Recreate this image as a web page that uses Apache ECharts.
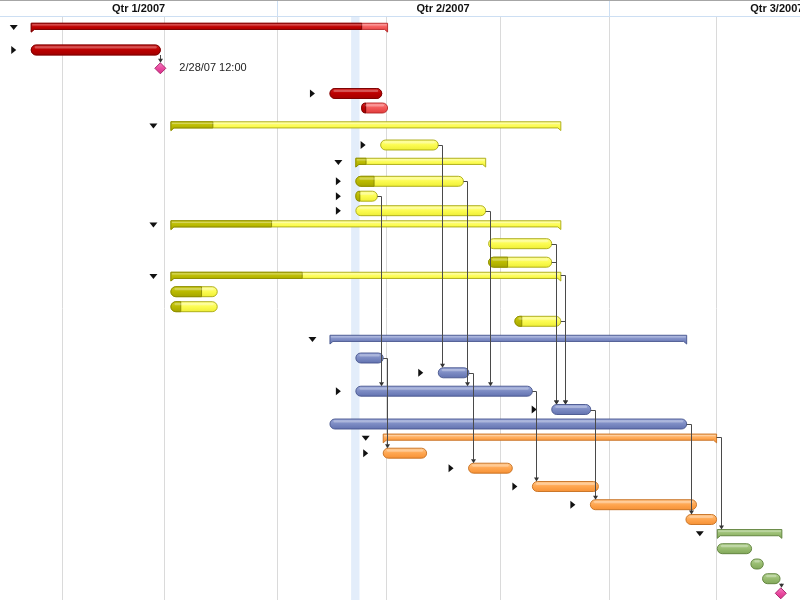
<!DOCTYPE html>
<html>
<head>
<meta charset="utf-8">
<script src="https://cdn.jsdelivr.net/npm/echarts@6/dist/echarts.min.js"></script>
<style>html,body{margin:0;padding:0;background:#fff}#c{width:800px;height:600px}</style>
</head>
<body>
<div id="c"></div>
<script>
// Time is counted in days from 1 Jan 2007 (day 0 = Jan 1, 00:00)
const viewStart = 14.04, viewEnd = 233.37;
const quarterLabels = ['Qtr 1/2007', 'Qtr 2/2007', 'Qtr 3/2007'];
const quarterStart = [0, 90, 181];
const quarterEnd = [90, 181, 273];
const monthLines = [31, 59, 90, 120, 151, 181, 210.3];
const todaySpan = [110.3, 112.6];

// Outline rows (vertical position of each row on the outline axis)
const rowY = [27.5, 50, 68.3, 93.5, 108, 126, 145, 162.5, 181.3, 196.2, 210.7, 225, 243.7, 262.2, 276.5,
  291.7, 306.7, 321.3, 339.5, 358, 372.8, 391.2, 409.5, 424, 438.3, 453.2, 468.2, 486.5, 504.7, 519.5,
  533.8, 548.7, 564, 578.7, 593.3];
const taskKind = ['summary', 'task', 'milestone', 'task', 'task', 'summary', 'task', 'summary', 'task', 'task',
  'task', 'summary', 'task', 'task', 'summary', 'task', 'task', 'task', 'summary', 'task', 'task', 'task', 'task',
  'task', 'summary', 'task', 'task', 'task', 'task', 'task', 'summary', 'task', 'task', 'task', 'milestone'];
const taskGroup = ['red', 'red', 'red', 'red', 'red', 'yellow', 'yellow', 'yellow', 'yellow', 'yellow', 'yellow',
  'yellow', 'yellow', 'yellow', 'yellow', 'yellow', 'yellow', 'yellow', 'blue', 'blue', 'blue', 'blue', 'blue',
  'blue', 'orange', 'orange', 'orange', 'orange', 'orange', 'orange', 'green', 'green', 'green', 'green', 'green'];
const taskStart = [22.6, 22.6, 58.0, 104.5, 113.2, 60.9, 118.4, 111.6, 111.6, 111.6, 111.6, 60.9, 148.0, 148.0,
  60.9, 60.9, 60.9, 155.2, 104.5, 111.6, 134.2, 111.6, 165.3, 104.5, 119.1, 119.1, 142.5, 160.0, 175.9, 202.1,
  210.7, 210.7, 219.9, 223.1, 228.1];
const taskEnd = [120.3, 58.0, 58.0, 118.7, 120.3, 167.8, 134.2, 147.2, 141.1, 117.5, 147.2, 167.8, 165.3, 165.3,
  167.8, 73.6, 73.6, 167.8, 202.3, 119.1, 142.6, 160.0, 176.0, 202.3, 210.5, 131.0, 154.5, 178.1, 205.0, 210.5,
  228.4, 220.1, 223.3, 227.9, 228.1];
const taskDone = [113.2, 58.0, 58.0, 118.7, 114.3, 72.4, 118.4, 114.4, 116.6, 112.7, 111.6, 88.5, 148.0, 153.2,
  96.9, 69.3, 63.6, 157.1, 104.5, 111.6, 134.2, 111.6, 165.3, 104.5, 119.1, 119.1, 142.5, 160.0, 175.9, 202.1,
  210.7, 210.7, 219.9, 223.1, 228.1];
const taskToggle = ['down', 'right', '', 'right', '', 'down', 'right', 'down', 'right', 'right', 'right', 'down',
  '', '', 'down', '', '', '', 'down', '', 'right', 'right', 'right', '', 'down', 'right', 'right', 'right', 'right',
  '', 'down', '', '', '', ''];
const taskNote = ['', '', '2/28/07 12:00', '', '', '', '', '', '', '', '', '', '', '', '', '', '', '', '', '', '',
  '', '', '', '', '', '', '', '', '', '', '', '', '', ''];
const linkFrom = [1, 9, 19, 6, 8, 10, 12, 13, 14, 17, 20, 21, 22, 23, 24, 33];
const linkTo = [2, 21, 25, 20, 21, 21, 22, 22, 22, 22, 26, 27, 28, 29, 30, 34];

const HEADER_H = 16;
function grad(stops) {
  return new echarts.graphic.LinearGradient(0, 0, 0, 1,
    stops.map((c, i) => ({ offset: i / (stops.length - 1), color: c })));
}
const palette = {
  red: { todo: ['#ff8686', '#f25858', '#e03a3a'], todoLine: '#b42626', done: ['#d42424', '#bb0000', '#a00000'], doneLine: '#760000' },
  yellow: { todo: ['#ffff96', '#fcfc52', '#eded34'], todoLine: '#a8a810', done: ['#cccc20', '#baba00', '#a4a400'], doneLine: '#8a8a00' },
  blue: { todo: ['#9eabdb', '#7c8bc3', '#6171af'], todoLine: '#45548c', done: ['#6272b0', '#4a5a98', '#3a4a88'], doneLine: '#303c70' },
  orange: { todo: ['#ffc88c', '#ffa650', '#f59034'], todoLine: '#c66e1e', done: ['#e08030', '#c86a18', '#b05a10'], doneLine: '#904808' },
  green: { todo: ['#b6d496', '#98bc70', '#80a658'], todoLine: '#5b7f38', done: ['#80a658', '#6a9040', '#5a7e34'], doneLine: '#44662a' }
};
const milestoneFill = ['#f584c4', '#ea4aa0', '#d82e88'];
const milestoneLine = '#a31a64';

function renderTask(params, api) {
  const i = params.dataIndex;
  const s = api.coord([api.value(0), api.value(1)]);
  const e = api.coord([api.value(2), api.value(1)]);
  const d = api.coord([api.value(3), api.value(1)]);
  const x0 = s[0], x1 = e[0], xd = d[0], c = s[1];
  const kind = taskKind[i], pal = palette[taskGroup[i]];
  const ch = [];
  if (kind === 'task') {
    const h = 10, y = c - 5, w = x1 - x0;
    ch.push({ type: 'rect', shape: { x: x0, y: y, width: w, height: h, r: 5 },
      style: { fill: grad(pal.todo), stroke: pal.todoLine, lineWidth: 0.9 } });
    if (xd > x0 + 0.5) {
      const wd = xd - x0, full = wd >= w - 0.5;
      ch.push({ type: 'rect', shape: { x: x0, y: y, width: full ? w : wd, height: h, r: full ? 5 : [5, 0, 0, 5] },
        style: { fill: grad(pal.done), stroke: pal.doneLine, lineWidth: 0.9 } });
    }
    if (w > 8) {
      ch.push({ type: 'rect', shape: { x: x0 + 3.5, y: y + 1.3, width: w - 7, height: 2.2, r: 1.1 },
        style: { fill: 'rgba(255,255,255,0.28)' } });
    }
  } else if (kind === 'summary') {
    const top = c - 4.25, bb = top + 6.2, leg = top + 8.8, lw = 3;
    ch.push({ type: 'polygon', shape: { points: [[x0, top], [x1, top], [x1, leg], [x1 - lw, bb], [x0 + lw, bb], [x0, leg]] },
      style: { fill: grad(pal.todo), stroke: pal.todoLine, lineWidth: 0.9 } });
    if (xd > x0 + 0.5) {
      ch.push({ type: 'polygon', shape: { points: [[x0, top], [xd, top], [xd, bb], [x0 + lw, bb], [x0, leg]] },
        style: { fill: grad(pal.done), stroke: pal.doneLine, lineWidth: 0.9 } });
    }
    ch.push({ type: 'rect', shape: { x: x0 + 1, y: top + 1, width: Math.max(0, x1 - x0 - 2), height: 1.3 },
      style: { fill: 'rgba(255,255,255,0.3)' } });
  } else {
    const r = 5.5;
    ch.push({ type: 'polygon', shape: { points: [[x0, c - r], [x0 + r, c], [x0, c + r], [x0 - r, c]] },
      style: { fill: grad(milestoneFill), stroke: milestoneLine, lineWidth: 0.9 } });
  }
  const tg = taskToggle[i];
  if (tg) {
    const tx = x0 - 17.5;
    const pts = tg === 'down'
      ? [[tx - 4, c - 2.5], [tx + 4, c - 2.5], [tx, c + 2.5]]
      : [[tx - 2.5, c - 4], [tx + 2.5, c], [tx - 2.5, c + 4]];
    ch.push({ type: 'polygon', shape: { points: pts }, style: { fill: '#111' } });
  }
  if (taskNote[i]) {
    ch.push({ type: 'text', x: x1 + 19, y: c, style: { text: taskNote[i], fill: '#222',
      font: '11px "Liberation Sans", Arial, sans-serif', verticalAlign: 'middle', align: 'left' } });
  }
  return { type: 'group', children: ch };
}

function renderLink(params, api) {
  const k = params.dataIndex, f = linkFrom[k], t = linkTo[k];
  const a = api.coord([api.value(0), api.value(1)]);
  const b = api.coord([api.value(2), api.value(3)]);
  const sy = taskKind[f] === 'summary' ? a[1] - 1.25 : a[1];
  const ttop = b[1] - (taskKind[t] === 'summary' ? 4.25 : (taskKind[t] === 'milestone' ? 5.5 : 5));
  let vx, pts;
  if (taskKind[t] === 'milestone') {
    vx = Math.round(b[0]) + 0.5;
    pts = [[vx, sy + 5], [vx, ttop - 3.5]];
  } else {
    vx = Math.round(a[0] + 4) + 0.5;
    const yy = Math.round(sy) + 0.5;
    pts = [[a[0], yy], [vx, yy], [vx, ttop - 3.5]];
  }
  return { type: 'group', children: [
    { type: 'polyline', shape: { points: pts }, style: { stroke: '#4a4a4a', lineWidth: 1, fill: null } },
    { type: 'polygon', shape: { points: [[vx - 2.5, ttop - 4], [vx + 2.5, ttop - 4], [vx, ttop]] }, style: { fill: '#333' } }
  ] };
}

function renderGrid(params, api) {
  const cs = params.coordSys;
  const x = Math.round(api.coord([api.value(0), 0])[0]) + 0.5;
  return { type: 'line', shape: { x1: x, y1: cs.y + HEADER_H + 1, x2: x, y2: cs.y + cs.height },
    style: { stroke: '#dadada', lineWidth: 1 } };
}

function renderToday(params, api) {
  const cs = params.coordSys;
  const x0 = api.coord([api.value(0), 0])[0], x1 = api.coord([api.value(1), 0])[0];
  return { type: 'rect', shape: { x: x0, y: cs.y + HEADER_H + 1, width: x1 - x0, height: cs.height - HEADER_H - 1 },
    style: { fill: '#e3edfa' } };
}

function renderHeader(params, api) {
  const cs = params.coordSys, i = params.dataIndex;
  const s = api.value(0), e = api.value(1);
  const xs = api.coord([Math.max(s, viewStart), 0])[0];
  const xe = api.coord([e, 0])[0];
  const ch = [];
  if (i === 0) {
    ch.push({ type: 'rect', shape: { x: cs.x, y: cs.y, width: cs.width, height: HEADER_H }, style: { fill: '#fff' } });
    ch.push({ type: 'line', shape: { x1: cs.x, y1: cs.y + 0.5, x2: cs.x + cs.width, y2: cs.y + 0.5 }, style: { stroke: '#a6a6a6', lineWidth: 1 } });
    ch.push({ type: 'line', shape: { x1: cs.x, y1: cs.y + HEADER_H + 0.5, x2: cs.x + cs.width, y2: cs.y + HEADER_H + 0.5 }, style: { stroke: '#cddff3', lineWidth: 1 } });
  }
  if (s > viewStart) {
    const x = Math.round(api.coord([s, 0])[0]) + 0.5;
    ch.push({ type: 'line', shape: { x1: x, y1: cs.y + 1, x2: x, y2: cs.y + HEADER_H }, style: { stroke: '#cddff3', lineWidth: 1 } });
  }
  ch.push({ type: 'text', x: (xs + xe) / 2, y: cs.y + 9, style: { text: quarterLabels[i], fill: '#111',
    font: 'bold 11px "Liberation Sans", Arial, sans-serif', align: 'center', verticalAlign: 'middle' } });
  return { type: 'group', children: ch };
}

const chart = echarts.init(document.getElementById('c'));
chart.setOption({
  animation: false,
  grid: { left: 0, right: 0, top: 0, bottom: 0 },
  xAxis: { type: 'value', min: viewStart, max: viewEnd, show: false },
  yAxis: { type: 'value', min: 0, max: 600, inverse: true, show: false },
  series: [
    { type: 'custom', name: 'today', z: 1, renderItem: renderToday, data: [todaySpan], encode: { x: [0, 1] } },
    { type: 'custom', name: 'months', z: 1, renderItem: renderGrid, data: monthLines.map(d => [d]), encode: { x: 0 } },
    { type: 'custom', name: 'tasks', z: 3, renderItem: renderTask,
      data: taskStart.map((s, i) => [s, rowY[i], taskEnd[i], taskDone[i]]), encode: { x: [0, 2, 3], y: 1 } },
    { type: 'custom', name: 'links', z: 4, renderItem: renderLink,
      data: linkFrom.map((f, k) => [taskEnd[f], rowY[f], taskStart[linkTo[k]], rowY[linkTo[k]]]), encode: { x: [0, 2], y: [1, 3] } },
    { type: 'custom', name: 'quarters', z: 5, renderItem: renderHeader,
      data: quarterStart.map((s, i) => [s, quarterEnd[i]]), encode: { x: [0, 1] } }
  ]
});
</script>
</body>
</html>
